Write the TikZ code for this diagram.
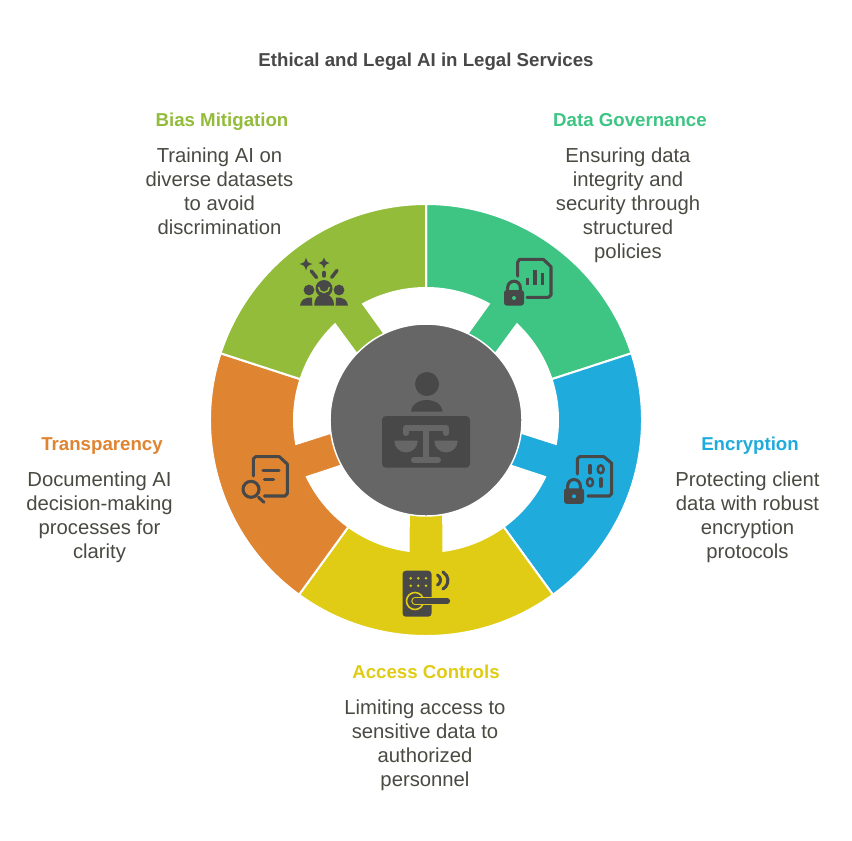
\documentclass[tikz,border=0pt]{standalone}
\usepackage{fontspec}
\setmainfont{Liberation Sans}
\usepackage{xcolor}
\usepackage{tikz}
\usetikzlibrary{calc}
\usetikzlibrary{positioning}
\definecolor{govgreen}{HTML}{3EC584}
\definecolor{encblue}{HTML}{1FABDB}
\definecolor{accyellow}{HTML}{E0CC14}
\definecolor{trorange}{HTML}{DF8431}
\definecolor{biaslime}{HTML}{92BC39}
\definecolor{hubgray}{HTML}{666666}
\definecolor{icondark}{HTML}{484848}
\definecolor{bodytext}{HTML}{4A4A42}
\tikzset{
  headtext/.style={inner sep=0pt,align=center,font=\fontsize{14}{17}\selectfont\bfseries,execute at begin node=\strut},
  desctext/.style={inner sep=0pt,align=center,text=bodytext,font=\fontsize{15.2}{18}\selectfont,execute at begin node=\strut,execute at end node=\strut},
  iconline/.style={draw=icondark,line width=2.3pt,line cap=round,line join=round},
  segedge/.style={draw=white,line width=1.5pt,line join=miter}
}
% one ring sector with its stem: fill colour, start angle, end angle
\newcommand{\ringseg}[3]{%
  \pgfmathsetmacro{\segmid}{(#2+#3)/2}
  \filldraw[segedge,fill=#1] (#2:216) arc[start angle=#2,end angle=#3,radius=216]
    -- (#3:132) arc[start angle=#3,end angle=\segmid+7.56,radius=132]
    -- (\segmid+11:90) -- (\segmid-11:90)
    -- (\segmid-7.56:132) arc[start angle=\segmid-7.56,end angle=#2,radius=132] -- cycle;
}
% padlock: centre x, top of body, fill behind the keyhole
\newcommand{\padlock}[3]{%
  \draw[line width=2.3pt,draw=icondark] (#1-6.3,#2+1) -- (#1-6.3,#2-2.5) arc[start angle=180,end angle=0,x radius=6.3,y radius=-6.3] -- (#1+6.3,#2+1);
  \fill[icondark,rounded corners=2pt] (#1-10,#2) rectangle (#1+10,#2+15.5);
  \fill[#3] (#1,#2+8) circle (2);
}
\begin{document}
\begin{tikzpicture}[x=0.75pt,y=0.75pt,yscale=-1,xscale=1]
\useasboundingbox (0,0) rectangle (852,840);
\fill[white] (0,0) rectangle (852,840);

%Ring sectors
\begin{scope}[shift={(426,420)},yscale=-1]
\ringseg{govgreen}{18}{90}
\ringseg{encblue}{-54}{18}
\ringseg{accyellow}{-126}{-54}
\ringseg{trorange}{162}{234}
\ringseg{biaslime}{90}{162}
\end{scope}

%Hub circle
\filldraw[draw=white,line width=1.1pt,fill=hubgray] (426,420) circle (96);

%Hub icon
\fill[icondark] (427,384) circle (12);
\fill[icondark] (411,411.7) arc[start angle=180,end angle=0,x radius=15.8,y radius=-11.7] -- cycle;
\fill[icondark,rounded corners=3pt] (382,416) rectangle (470,467.7);
\draw[hubgray,line width=4.5pt,line cap=round,line join=round] (406,433) -- (406,428) -- (446,428) -- (446,433);
\draw[hubgray,line width=4.5pt] (426,428) -- (426,460);
\draw[hubgray,line width=4.5pt,line cap=round] (414,460) -- (438,460);
\fill[hubgray] (394.3,440.7) arc[start angle=180,end angle=0,radius=11.7] -- cycle;
\fill[hubgray] (434.3,440.7) arc[start angle=180,end angle=0,radius=11.7] -- cycle;

%Data Governance icon
\draw[iconline] (517.7,276) -- (517.7,262) -- (519.7,259.3) -- (543.3,259.3) -- (551,266.7) -- (551,295) -- (548.5,297.3) -- (527,297.3);
\draw[iconline,line cap=butt] (527.7,278.3) -- (527.7,285);
\draw[iconline,line cap=butt] (535,270) -- (535,284.5);
\draw[iconline,line cap=butt] (542.3,273.3) -- (542.3,284.5);
\padlock{514}{290}{govgreen}

%Encryption icon
\draw[iconline] (577.3,474) -- (577.3,459) -- (579.5,456.7) -- (604,456.7) -- (611.7,463.3) -- (611.7,493.5) -- (609.5,496) -- (588,496);
\draw[iconline] (590,465.5) -- (590,473);
\draw[iconline,line width=1.9pt] (600.7,469.3) ellipse (3 and 4);
\draw[iconline,line width=1.9pt] (590,482.3) ellipse (3 and 4);
\draw[iconline] (601,478.7) -- (601,486.3);
\padlock{574}{488.3}{encblue}

%Transparency icon
\draw[iconline] (253.3,476) -- (253.3,459) -- (255.5,456.7) -- (279.3,456.7) -- (287.3,464) -- (287.3,493.5) -- (285,496) -- (264.5,496);
\draw[iconline] (263,470.7) -- (279,470.7);
\draw[iconline] (264.5,479.3) -- (273.5,479.3);
\draw[iconline] (251,489.3) circle (8);
\draw[iconline] (258.5,497.3) -- (264,502.3);

%Access Controls icon
\fill[icondark,rounded corners=2.5pt] (402.5,570.7) rectangle (431.5,616.7);
\foreach \dotx in {410.7,418.3,426} \foreach \doty in {578.3,585.7}
  \fill[accyellow] (\dotx,\doty) circle (1.4);
\draw[accyellow,line width=1.2pt] (415,601) circle (8.5);
\draw[accyellow,line width=5.6pt,line cap=round] (415,601) -- (431,601);
\draw[icondark,line width=3.8pt,line cap=round] (415,601) -- (447.5,601);
\draw[iconline] (437.5,585) arc[start angle=60,end angle=-60,radius=5.8];
\draw[iconline] (443,589) arc[start angle=60,end angle=-60,radius=9.8];

%Bias Mitigation icon
\foreach \starx/\stary/\starr in {306/264/6.5,324/263/5.5}
  \fill[icondark] (\starx,\stary-\starr) .. controls (\starx+1.5,\stary-1.5) .. (\starx+\starr,\stary)
    .. controls (\starx+1.5,\stary+1.5) .. (\starx,\stary+\starr)
    .. controls (\starx-1.5,\stary+1.5) .. (\starx-\starr,\stary)
    .. controls (\starx-1.5,\stary-1.5) .. cycle;
\draw[iconline,line width=2.6pt] (311.3,271) -- (316.5,277.5);
\draw[iconline,line width=2.6pt] (324,272.5) -- (324,276);
\draw[iconline,line width=2.6pt] (337,270.5) -- (331.7,277.3);
\fill[icondark] (309,290) circle (5.4);
\fill[icondark] (339,290) circle (5.4);
\fill[icondark] (324,288.5) circle (8.5);
\draw[biaslime,line width=1.1pt] (318.5,287) arc[start angle=180,end angle=0,x radius=5.5,y radius=5.5];
\fill[icondark] (314.3,305.7) .. controls (314.3,298) and (318,295.5) .. (321,294.5) -- (327,294.5) .. controls (330,295.5) and (334,298) .. (334,305.7) -- cycle;
\fill[icondark] (300,305.7) .. controls (300.5,300) and (305,297) .. (312,297.5) .. controls (312,300) and (312,303) .. (312.5,305.7) -- cycle;
\fill[icondark] (348,305.7) .. controls (347.5,300) and (343,297) .. (336,297.5) .. controls (336,300) and (336,303) .. (335.5,305.7) -- cycle;

% Text Node
\draw (426,62) node (title) [headtext,text=icondark] {Ethical and Legal AI in Legal Services};
% Text Node
\draw (222,122) node (biashead) [headtext,text=biaslime] {Bias Mitigation};
% Text Node
\draw (219.5,194.5) node (biasdesc) [desctext] {Training AI on\\diverse datasets\\to avoid\\discrimination};
% Text Node
\draw (630,122) node (govhead) [headtext,text=govgreen] {Data Governance};
% Text Node
\draw (628,206.5) node (govdesc) [desctext] {Ensuring data\\integrity and\\security through\\structured\\policies};
% Text Node
\draw (750,446) node (enchead) [headtext,text=encblue] {Encryption};
% Text Node
\draw (747.5,518.5) node (encdesc) [desctext] {Protecting client\\data with robust\\encryption\\protocols};
% Text Node
\draw (102,446) node (transhead) [headtext,text=trorange] {Transparency};
% Text Node
\draw (99.5,518.5) node (transdesc) [desctext] {Documenting AI\\decision-making\\processes for\\clarity};
% Text Node
\draw (426,674) node (accesshead) [headtext,text=accyellow] {Access Controls};
% Text Node
\draw (425,746.5) node (accessdesc) [desctext] {Limiting access to\\sensitive data to\\authorized\\personnel};
\end{tikzpicture}
\end{document}
